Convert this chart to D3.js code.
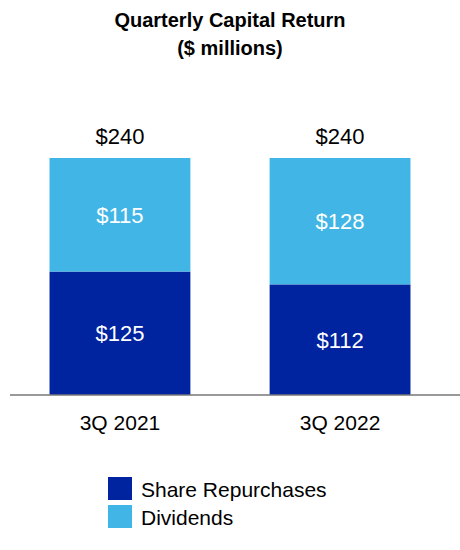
<!DOCTYPE html>
<html>
<head>
<meta charset="utf-8">
<script src="https://cdn.jsdelivr.net/npm/d3@7"></script>
<style>
  body { margin: 0; background: #fff; }
  text { font-family: "Liberation Sans", Arial, sans-serif; }
</style>
</head>
<body>
<div id="chart"></div>
<script>
// chart data
var quarters = ["3Q 2021", "3Q 2022"];
var repurchases = [125, 112];
var dividends = [115, 128];
var totals = ["$240", "$240"];
var seriesNames = ["Share Repurchases", "Dividends"];
var colors = ["#0024a0", "#41b6e6"];

var svgWidth = 460;
var svgHeight = 550;
var baseY = 395;

var svg = d3.select("#chart")
  .append("svg")
  .attr("width", svgWidth)
  .attr("height", svgHeight);

// title
svg.append("text")
  .attr("x", 230).attr("y", 27)
  .attr("text-anchor", "middle")
  .attr("font-size", 20).attr("font-weight", "bold")
  .text("Quarterly Capital Return");
svg.append("text")
  .attr("x", 230).attr("y", 55)
  .attr("text-anchor", "middle")
  .attr("font-size", 20).attr("font-weight", "bold")
  .text("($ millions)");

var x = d3.scaleBand()
  .domain(quarters)
  .range([0, svgWidth])
  .paddingInner(0.36)
  .paddingOuter(0.225);

var y = d3.scaleLinear()
  .domain([0, 240])
  .range([baseY, 158]);

var rows = quarters.map(function(q, i) {
  return { q: q, rep: repurchases[i], div: dividends[i], total: totals[i] };
});

// repurchases (bottom)
svg.selectAll(".rep")
  .data(rows).enter()
  .append("rect")
  .attr("x", d => x(d.q))
  .attr("width", x.bandwidth())
  .attr("y", d => y(d.rep))
  .attr("height", d => y(0) - y(d.rep))
  .attr("fill", colors[0]);

// dividends (top)
svg.selectAll(".div")
  .data(rows).enter()
  .append("rect")
  .attr("x", d => x(d.q))
  .attr("width", x.bandwidth())
  .attr("y", d => y(d.rep + d.div))
  .attr("height", d => y(d.rep) - y(d.rep + d.div))
  .attr("fill", colors[1]);

// segment labels
svg.selectAll(".repLabel")
  .data(rows).enter()
  .append("text")
  .attr("x", d => x(d.q) + x.bandwidth() / 2)
  .attr("y", d => (y(0) + y(d.rep)) / 2 + 8)
  .attr("text-anchor", "middle")
  .attr("font-size", 22).attr("fill", "#fff")
  .text(d => "$" + d.rep);

svg.selectAll(".divLabel")
  .data(rows).enter()
  .append("text")
  .attr("x", d => x(d.q) + x.bandwidth() / 2)
  .attr("y", d => (y(d.rep) + y(d.rep + d.div)) / 2 + 8)
  .attr("text-anchor", "middle")
  .attr("font-size", 22).attr("fill", "#fff")
  .text(d => "$" + d.div);

// totals
svg.selectAll(".total")
  .data(rows).enter()
  .append("text")
  .attr("x", d => x(d.q) + x.bandwidth() / 2)
  .attr("y", d => y(d.rep + d.div) - 14)
  .attr("text-anchor", "middle")
  .attr("font-size", 22).attr("fill", "#000")
  .text(d => d.total);

// axis
var axis = svg.append("g")
  .attr("transform", `translate(0, ${baseY})`)
  .call(d3.axisBottom(x).tickSize(0).tickPadding(20));
axis.select(".domain").attr("d", "M10,0H460").attr("stroke", "#777").attr("stroke-width", 1.5);
axis.selectAll("text")
  .attr("font-size", 21).attr("fill", "#000")
  .attr("font-family", "'Liberation Sans', Arial, sans-serif");

// legend
var legend = svg.selectAll(".legend")
  .data(seriesNames).enter()
  .append("g")
  .attr("transform", (d, i) => `translate(108, ${477 + i * 28})`);
legend.append("rect")
  .attr("width", 24).attr("height", 23)
  .attr("fill", (d, i) => colors[i]);
legend.append("text")
  .attr("x", 33).attr("y", 20)
  .attr("font-size", 21)
  .text(d => d);
</script>
</body>
</html>
